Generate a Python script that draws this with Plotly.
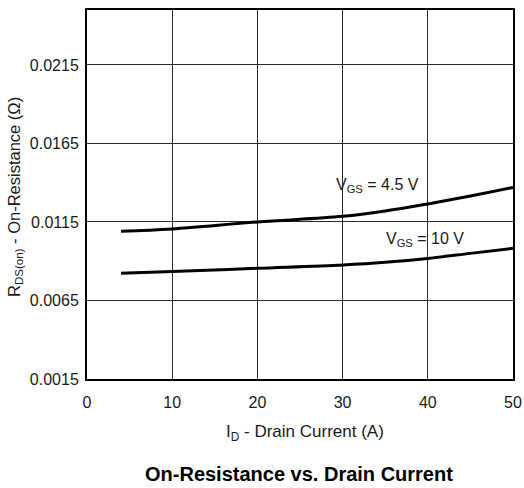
import plotly.graph_objects as go

# Data
drain_current = [4, 10, 20, 30, 35, 40, 45, 50]
rds_vgs_4_5 = [0.01091, 0.01106, 0.01150, 0.01186, 0.01220, 0.01265, 0.01315, 0.01370]
rds_vgs_10 = [0.00823, 0.00834, 0.00855, 0.00876, 0.00893, 0.00918, 0.00950, 0.00982]

x_ticks = [0, 10, 20, 30, 40, 50]
y_ticks = [0.0015, 0.0065, 0.0115, 0.0165, 0.0215]
y_tick_text = ["0.0015", "0.0065", "0.0115", "0.0165", "0.0215"]

FONT = "Liberation Sans, Arial, sans-serif"

fig = go.Figure()
fig.add_trace(go.Scatter(x=drain_current, y=rds_vgs_4_5, mode="lines",
                         line=dict(color="black", width=3, shape="spline"),
                         showlegend=False, hoverinfo="skip"))
fig.add_trace(go.Scatter(x=drain_current, y=rds_vgs_10, mode="lines",
                         line=dict(color="black", width=3, shape="spline"),
                         showlegend=False, hoverinfo="skip"))

fig.update_layout(
    width=524, height=488,
    margin=dict(l=87, r=11, t=10, b=109),
    paper_bgcolor="white", plot_bgcolor="white",
    font=dict(family=FONT, color="#1a1a1a", size=16),
    xaxis=dict(range=[0, 50], tickvals=x_ticks, showgrid=True, gridcolor="#2a2a2a",
               gridwidth=1, showline=True, linecolor="black", linewidth=2, mirror=True,
               ticks="", zeroline=False, tickfont=dict(size=16), ticklabelstandoff=8,
               automargin=False),
    yaxis=dict(range=[0.0015, 0.025], tickvals=y_ticks, ticktext=y_tick_text,
               showgrid=True, gridcolor="#2a2a2a", gridwidth=1, showline=True,
               linecolor="black", linewidth=2, mirror=True, ticks="", zeroline=False,
               tickfont=dict(size=16), ticklabelstandoff=3, automargin=False),
    annotations=[
        dict(text="V<sub>GS</sub> = 4.5 V", x=377, y=185, xref="paper", yref="paper",
             showarrow=False, font=dict(size=16)),
        dict(text="V<sub>GS</sub> = 10 V", x=425, y=240, xref="paper", yref="paper",
             showarrow=False, font=dict(size=16)),
        dict(text="I<sub>D</sub> - Drain Current (A)", x=305, y=433, xref="paper", yref="paper",
             showarrow=False, font=dict(size=17)),
        dict(text="<b>On-Resistance vs. Drain Current</b>", x=299, y=474, xref="paper", yref="paper",
             showarrow=False, font=dict(size=20, color="black")),
        dict(text="R<sub>DS(on)</sub> - On-Resistance (\u03a9)", x=15, y=197, xref="paper", yref="paper",
             showarrow=False, textangle=-90, font=dict(size=16.5)),
    ],
)

# Convert pixel-specified annotation positions to paper coordinates
pl, pr, pt, pb = 87, 11, 10, 109
pw = 524 - pl - pr
ph = 488 - pt - pb
for a in fig.layout.annotations:
    a.x = (a.x - pl) / pw
    a.y = 1 - (a.y - pt) / ph
    a.xanchor = "center"
    a.yanchor = "middle"

fig.write_html(
    "out.html",
    config={"displayModeBar": False, "responsive": False},
    post_script="document.body.style.margin='0';document.body.style.overflow='hidden';"
                "document.documentElement.style.overflow='hidden';",
)
